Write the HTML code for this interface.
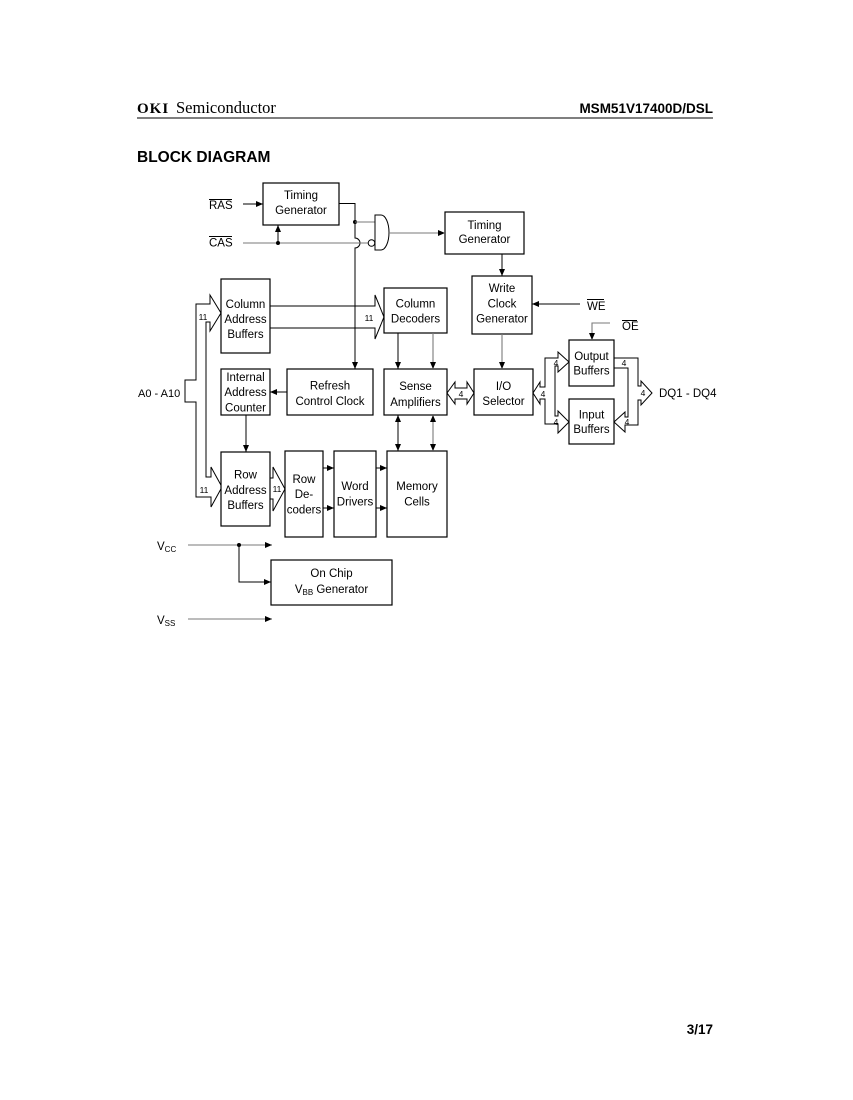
<!DOCTYPE html>
<html><head><meta charset="utf-8"><style>
html,body{margin:0;padding:0;background:#fff;}
svg{display:block;}
text{font-family:"Liberation Sans",sans-serif;fill:#000;}
.t{font-size:11.5px;text-anchor:middle;}
.s{font-size:8.5px;text-anchor:middle;}
.b{fill:#fff;stroke:#000;stroke-width:1.2;}
.l{fill:none;stroke:#000;stroke-width:1;}
.g{fill:none;stroke:#7a7a7a;stroke-width:1.1;}
.bus{fill:#fff;stroke:#000;stroke-width:1;stroke-linejoin:miter;}
</style></head><body>
<svg width="853" height="1100" viewBox="0 0 853 1100" xmlns="http://www.w3.org/2000/svg">
<defs>
<marker id="a" markerUnits="userSpaceOnUse" markerWidth="8" markerHeight="8" refX="7" refY="3" orient="auto-start-reverse"><path d="M0,0 L7,3 L0,6 z" fill="#000"/></marker>
</defs>

<!-- Header -->
<text x="137" y="113" font-family="Liberation Serif" font-weight="bold" font-size="15" letter-spacing="1" style="font-family:'Liberation Serif',serif">OKI</text>
<text x="176" y="113" font-size="16.5" style="font-family:'Liberation Serif',serif">Semiconductor</text>
<text x="713" y="113" text-anchor="end" font-weight="bold" font-size="13.5">MSM51V17400D/DSL</text>
<line x1="137" y1="118" x2="713" y2="118" stroke="#555" stroke-width="1.5"/>
<text x="137" y="162" font-weight="bold" font-size="15.5">BLOCK DIAGRAM</text>
<text x="713" y="1034" text-anchor="end" font-weight="bold" font-size="13.5">3/17</text>

<!-- Buses -->
<path class="bus" d="M210,304 L210,295 L221,313 L210,331 L210,322 L206,322 L206,477 L211,477 L211,467 L222,487 L211,507 L211,497 L196,497 L196,402 L185,402 L185,380 L196,380 L196,304 Z"/>
<path class="bus" d="M270,306 L375,306 L375,295 L384,317 L375,339 L375,328 L270,328"/>
<path class="bus" d="M270,478 L273,478 L273,467 L285,489 L273,511 L273,499 L270,499"/>
<path class="bus" d="M447,393 L455,382 L455,388 L467,388 L467,382 L474,393 L467,404 L467,399 L455,399 L455,404 Z"/>
<path class="bus" d="M533,393 L540,382 L540,387 L545,387 L545,358 L558,358 L558,352 L569,362 L558,372 L558,366 L555,366 L555,416 L558,416 L558,411 L569,422 L558,433 L558,424 L545,424 L545,399 L540,399 L540,404 Z"/>
<path class="bus" d="M614,358 L638,358 L638,386 L641,386 L641,381 L652,393 L641,405 L641,400 L638,400 L638,425 L625,425 L625,432 L614,422 L625,412 L625,417 L628,417 L628,368 L614,368"/>

<text class="s" x="203" y="320">11</text>
<text class="s" x="204" y="493">11</text>
<text class="s" x="369" y="321">11</text>
<text class="s" x="277" y="492">11</text>
<text class="s" x="461" y="397">4</text>
<text class="s" x="543" y="397">4</text>
<text class="s" x="556" y="366">4</text>
<text class="s" x="556" y="425">4</text>
<text class="s" x="624" y="366">4</text>
<text class="s" x="643" y="396">4</text>
<text class="s" x="627" y="425">4</text>

<!-- Boxes -->
<rect class="b" x="263" y="183" width="76" height="42"/>
<text class="t" x="301" y="199">Timing</text>
<text class="t" x="301" y="214">Generator</text>

<rect class="b" x="445" y="212" width="79" height="42"/>
<text class="t" x="484.5" y="229">Timing</text>
<text class="t" x="484.5" y="243">Generator</text>

<rect class="b" x="472" y="276" width="60" height="58"/>
<text class="t" x="502" y="292">Write</text>
<text class="t" x="502" y="307.5">Clock</text>
<text class="t" x="502" y="322.5">Generator</text>

<rect class="b" x="221" y="279" width="49" height="74"/>
<text class="t" x="245.5" y="308">Column</text>
<text class="t" x="245.5" y="323">Address</text>
<text class="t" x="245.5" y="338">Buffers</text>

<rect class="b" x="384" y="288" width="63" height="45"/>
<text class="t" x="415.5" y="307.5">Column</text>
<text class="t" x="415.5" y="322.5">Decoders</text>

<rect class="b" x="221" y="369" width="49" height="46"/>
<text class="t" x="245.5" y="381">Internal</text>
<text class="t" x="245.5" y="396">Address</text>
<text class="t" x="245.5" y="411.5">Counter</text>

<rect class="b" x="287" y="369" width="86" height="46"/>
<text class="t" x="330" y="389.5">Refresh</text>
<text class="t" x="330" y="405">Control Clock</text>

<rect class="b" x="384" y="369" width="63" height="46"/>
<text class="t" x="415.5" y="390">Sense</text>
<text class="t" x="415.5" y="406">Amplifiers</text>

<rect class="b" x="474" y="369" width="59" height="46"/>
<text class="t" x="503.5" y="390">I/O</text>
<text class="t" x="503.5" y="405">Selector</text>

<rect class="b" x="569" y="340" width="45" height="46"/>
<text class="t" x="591.5" y="360">Output</text>
<text class="t" x="591.5" y="374.5">Buffers</text>

<rect class="b" x="569" y="399" width="45" height="45"/>
<text class="t" x="591.5" y="418.5">Input</text>
<text class="t" x="591.5" y="433">Buffers</text>

<rect class="b" x="221" y="452" width="49" height="74"/>
<text class="t" x="245.5" y="478.5">Row</text>
<text class="t" x="245.5" y="494">Address</text>
<text class="t" x="245.5" y="509">Buffers</text>

<rect class="b" x="285" y="451" width="38" height="86"/>
<text class="t" x="304" y="483">Row</text>
<text class="t" x="304" y="498">De-</text>
<text class="t" x="304" y="513.5">coders</text>

<rect class="b" x="334" y="451" width="42" height="86"/>
<text class="t" x="355" y="490">Word</text>
<text class="t" x="355" y="505.5">Drivers</text>

<rect class="b" x="387" y="451" width="60" height="86"/>
<text class="t" x="417" y="490">Memory</text>
<text class="t" x="417" y="505.5">Cells</text>

<rect class="b" x="271" y="560" width="121" height="45"/>
<text class="t" x="331.5" y="577">On Chip</text>
<text class="t" x="331.5" y="593">V<tspan font-size="8" dy="2">BB</tspan><tspan dy="-2"> Generator</tspan></text>

<!-- Gate & control lines -->
<path class="l" d="M339,203.5 H355 V238 A5,5 0 0 1 355,248 V369" marker-end="url(#a)"/>
<circle cx="355" cy="222" r="2" fill="#000"/>
<path class="g" d="M355,222 H375"/>
<path class="l" d="M375,215 H381 A8,17.5 0 0 1 381,250 H375 Z" fill="#fff"/>
<path class="g" d="M243,243 H368"/>
<circle cx="371.5" cy="243" r="3.3" fill="#fff" stroke="#000" stroke-width="1"/>
<circle cx="278" cy="243" r="2" fill="#000"/>
<path class="l" d="M278,243 V225" marker-end="url(#a)"/>
<path class="l" d="M243,204 H263" marker-end="url(#a)"/>
<path class="g" d="M389,233 H445" marker-end="url(#a)"/>
<path class="l" d="M502,254 V276" marker-end="url(#a)"/>

<path class="l" d="M580,304 H532" marker-end="url(#a)"/>
<path class="g" d="M610,323 H592 V340" marker-end="url(#a)"/>

<path class="l" d="M398,333 V369" marker-end="url(#a)"/>
<path class="g" d="M433,333 V369" marker-end="url(#a)"/>
<path class="l" d="M287,392 H270" marker-end="url(#a)"/>
<path class="l" d="M246,415 V452" marker-end="url(#a)"/>
<path class="g" d="M502,334 V369" marker-end="url(#a)"/>
<path class="l" d="M398,415 V451" marker-start="url(#a)" marker-end="url(#a)"/>
<path class="g" d="M433,415 V451" marker-start="url(#a)" marker-end="url(#a)"/>
<path class="l" d="M323,468 H334" marker-end="url(#a)"/>
<path class="l" d="M323,508 H334" marker-end="url(#a)"/>
<path class="l" d="M376,468 H387" marker-end="url(#a)"/>
<path class="l" d="M376,508 H387" marker-end="url(#a)"/>

<path class="g" d="M188,545 H272" marker-end="url(#a)"/>
<circle cx="239" cy="545" r="2" fill="#000"/>
<path class="l" d="M239,545 V582 H271" marker-end="url(#a)"/>
<path class="g" d="M188,619 H272" marker-end="url(#a)"/>

<!-- Signal labels -->
<text x="209" y="209" font-size="11.5">RAS</text>
<line x1="209" y1="199.5" x2="232" y2="199.5" stroke="#000" stroke-width="1"/>
<text x="209" y="246.5" font-size="11.5">CAS</text>
<line x1="209" y1="236.5" x2="232" y2="236.5" stroke="#000" stroke-width="1"/>
<text x="587" y="310" font-size="11.5">WE</text>
<line x1="587" y1="299.5" x2="604" y2="299.5" stroke="#000" stroke-width="1"/>
<text x="622" y="330" font-size="11.5">OE</text>
<line x1="622" y1="320.5" x2="637" y2="320.5" stroke="#000" stroke-width="1"/>
<text x="138" y="397" font-size="11">A0 - A10</text>
<text x="659" y="397" font-size="11.5">DQ1 - DQ4</text>
<text x="157" y="550" font-size="11.5">V<tspan font-size="8" dy="2">CC</tspan></text>
<text x="157" y="624" font-size="11.5">V<tspan font-size="8" dy="2">SS</tspan></text>
</svg>
</body></html>
